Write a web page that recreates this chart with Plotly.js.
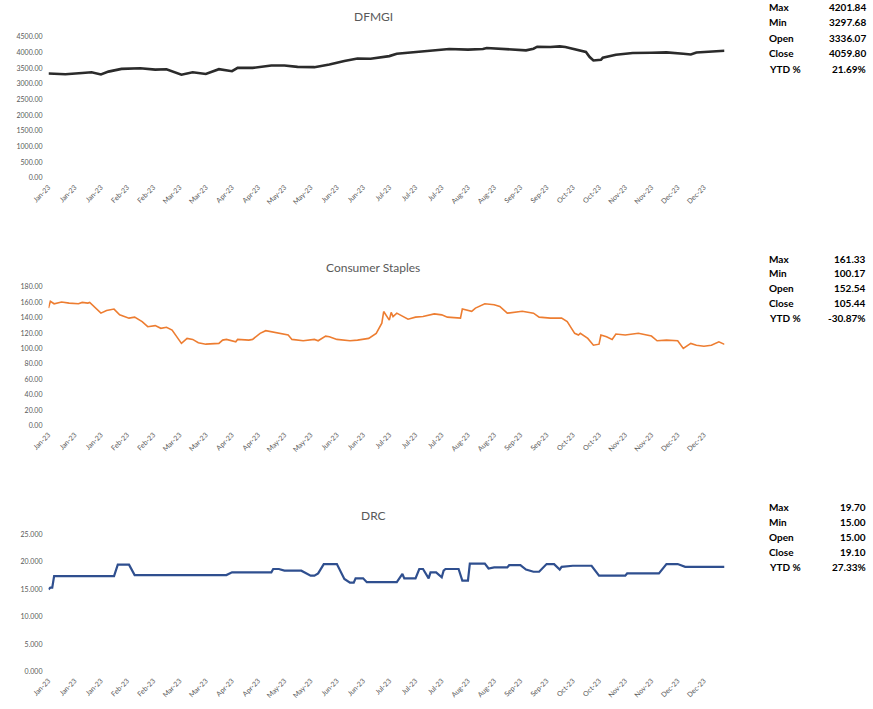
<!DOCTYPE html>
<html>
<head>
<meta charset="utf-8">
<script src="https://cdn.plot.ly/plotly-3.0.1.min.js"></script>
<style>html,body{margin:0;padding:0;background:#fff;}#chart{width:873px;height:709px;}</style>
</head>
<body>
<div id="chart"></div>
<script>
// ---------- DATA ----------
const dfmgiDates = ['2023-01-02','2023-01-11','2023-01-20','2023-01-25','2023-01-30','2023-02-03','2023-02-10','2023-02-20','2023-02-28','2023-03-06','2023-03-14','2023-03-20','2023-03-27','2023-04-03','2023-04-10','2023-04-13','2023-04-21','2023-05-01','2023-05-08','2023-05-15','2023-05-24','2023-06-01','2023-06-09','2023-06-16','2023-06-23','2023-07-03','2023-07-07','2023-07-18','2023-07-26','2023-08-04','2023-08-14','2023-08-22','2023-08-24','2023-08-31','2023-09-08','2023-09-14','2023-09-18','2023-09-20','2023-09-27','2023-10-02','2023-10-05','2023-10-11','2023-10-16','2023-10-18','2023-10-20','2023-10-24','2023-10-25','2023-11-01','2023-11-10','2023-11-20','2023-11-28','2023-12-07','2023-12-11','2023-12-14','2023-12-21','2023-12-29'];
const dfmgiValues = [3336.07,3310,3353,3375,3305,3395,3482,3505,3459,3472,3297.68,3375,3320,3472,3408,3514,3514,3589,3589,3547,3537,3621,3731,3815,3805,3890,3966,4021,4073,4118,4096,4118,4150,4128,4105,4073,4128,4190,4183,4201.84,4183,4096,4021,3860,3750,3773,3837,3934,3989,3999,4008,3966,3944,4008,4040,4059.80];

const staplesDates = ['2023-01-02','2023-01-03','2023-01-05','2023-01-09','2023-01-13','2023-01-18','2023-01-20','2023-01-23','2023-01-24','2023-01-26','2023-01-30','2023-02-02','2023-02-06','2023-02-09','2023-02-14','2023-02-17','2023-02-21','2023-02-24','2023-02-28','2023-03-03','2023-03-06','2023-03-09','2023-03-13','2023-03-14','2023-03-17','2023-03-20','2023-03-23','2023-03-27','2023-04-03','2023-04-05','2023-04-07','2023-04-12','2023-04-13','2023-04-19','2023-04-21','2023-04-25','2023-04-28','2023-05-04','2023-05-10','2023-05-12','2023-05-18','2023-05-24','2023-05-26','2023-05-30','2023-06-01','2023-06-05','2023-06-12','2023-06-16','2023-06-22','2023-06-26','2023-06-29','2023-06-30','2023-07-03','2023-07-04','2023-07-05','2023-07-07','2023-07-10','2023-07-13','2023-07-17','2023-07-21','2023-07-27','2023-07-31','2023-08-03','2023-08-10','2023-08-11','2023-08-16','2023-08-18','2023-08-23','2023-08-28','2023-08-31','2023-09-04','2023-09-08','2023-09-12','2023-09-18','2023-09-21','2023-09-27','2023-10-03','2023-10-06','2023-10-10','2023-10-12','2023-10-13','2023-10-17','2023-10-20','2023-10-23','2023-10-24','2023-10-27','2023-10-30','2023-11-01','2023-11-06','2023-11-13','2023-11-20','2023-11-23','2023-11-28','2023-12-04','2023-12-07','2023-12-11','2023-12-14','2023-12-18','2023-12-22','2023-12-26','2023-12-29'];
const staplesValues = [152.54,161.33,158.2,160.5,159.1,158.2,160,159.1,160,155.6,146,149.4,151.3,143.8,139.5,140.8,135,128.4,129.8,126.3,127.7,124.1,108.8,106.7,113.2,111.9,107.5,105.7,106.7,111,111.9,108.8,111.9,111,111.9,119.8,123.2,120.6,117.6,111.9,110.1,111.9,110.1,116.2,115.3,111.9,110.1,111,113.2,119.8,132.9,148.1,137,147,141.6,146,141.6,138.2,140.8,141.6,145.1,143.8,140.8,139.5,151.3,148.4,152.6,158.2,157,154.7,146,146.8,148.4,146,140.8,139.5,139.5,135,119.8,117.6,119.8,113.2,104.4,105.7,117.6,115.3,111.9,118.9,117.6,119.8,116.2,110.1,111,110.1,100.17,106.7,104.4,103.1,104.4,108.8,105.44];

const drcDates = ['2023-01-02','2023-01-03','2023-01-04','2023-01-05','2023-02-06','2023-02-08','2023-02-14','2023-02-17','2023-04-07','2023-04-10','2023-05-01','2023-05-02','2023-05-05','2023-05-08','2023-05-17','2023-05-22','2023-05-24','2023-05-26','2023-05-29','2023-06-05','2023-06-09','2023-06-12','2023-06-14','2023-06-15','2023-06-19','2023-06-21','2023-07-07','2023-07-10','2023-07-11','2023-07-17','2023-07-19','2023-07-21','2023-07-24','2023-07-25','2023-07-28','2023-07-31','2023-08-01','2023-08-02','2023-08-09','2023-08-11','2023-08-14','2023-08-15','2023-08-23','2023-08-25','2023-08-28','2023-09-04','2023-09-05','2023-09-11','2023-09-14','2023-09-18','2023-09-21','2023-09-25','2023-09-29','2023-10-02','2023-10-03','2023-10-09','2023-10-19','2023-10-23','2023-11-06','2023-11-07','2023-11-24','2023-11-28','2023-12-04','2023-12-08','2023-12-29'];
const drcValues = [15.00,15.3,15.3,17.4,17.4,19.5,19.5,17.6,17.6,18.1,18.1,18.7,18.7,18.4,18.4,17.5,17.5,17.9,19.6,19.6,16.9,16.2,16.2,17.0,17.0,16.3,16.3,17.8,17.0,17.0,18.7,18.7,17.0,18.1,18.1,17.2,18.4,18.7,18.7,16.6,16.6,19.70,19.70,18.8,19.0,19.0,19.4,19.4,18.6,18.2,18.2,19.6,19.6,18.6,19.1,19.3,19.3,17.5,17.5,17.9,17.9,19.6,19.6,19.1,19.10];

const chartTitles = ['DFMGI','Consumer Staples','DRC'];
const statLabels = ['Max','Min','Open','Close','YTD %'];
const dfmgiStats = ['4201.84','3297.68','3336.07','4059.80','21.69%'];
const staplesStats = ['161.33','100.17','152.54','105.44','-30.87%'];
const drcStats = ['19.70','15.00','15.00','19.10','27.33%'];

// ---------- LAYOUT HELPERS ----------
const W = 873, H = 709;
const px = v => v / W;
const py = v => 1 - v / H;
const xDom = [px(48.5), px(724.5)];
const tickFont = {family: 'Lato, "Open Sans", sans-serif', size: 7, color: '#595959'};

function xAxis(anchor) {
  return {
    domain: xDom, anchor: anchor, type: 'date',
    range: ['2023-01-02', '2023-12-29'],
    tick0: '2023-01-02', dtick: 14 * 86400000, tickformat: '%b-%y',
    tickangle: -45, tickfont: tickFont, showgrid: false, zeroline: false,
    showline: false, ticks: '', fixedrange: true, automargin: false,
    ticklabelstandoff: 3
  };
}
function yAxis(anchor, dom, range, dtick, fmt) {
  return {
    domain: dom, anchor: anchor, range: range, dtick: dtick, tick0: 0,
    tickformat: fmt, tickfont: tickFont, showgrid: false, zeroline: false,
    showline: false, ticks: '', fixedrange: true, automargin: false,
    ticklabelstandoff: 5
  };
}

const traces = [
  {x: dfmgiDates, y: dfmgiValues, xaxis: 'x', yaxis: 'y', type: 'scatter', mode: 'lines',
   line: {color: '#2b2b2b', width: 2.6}, hoverinfo: 'skip'},
  {x: staplesDates, y: staplesValues, xaxis: 'x2', yaxis: 'y2', type: 'scatter', mode: 'lines',
   line: {color: '#ED7D31', width: 1.6}, hoverinfo: 'skip'},
  {x: drcDates, y: drcValues, xaxis: 'x3', yaxis: 'y3', type: 'scatter', mode: 'lines',
   line: {color: '#2F4F8F', width: 2.2}, hoverinfo: 'skip'}
];

const annotations = [];
const titleY = [17, 267, 515];
chartTitles.forEach((t, i) => {
  annotations.push({text: t, xref: 'paper', yref: 'paper', x: px(373), y: py(titleY[i]),
    xanchor: 'center', yanchor: 'middle', showarrow: false,
    font: {family: 'Lato, "Open Sans", sans-serif', size: 12, color: '#595959'}});
});
const statSets = [dfmgiStats, staplesStats, drcStats];
const statStart = [7, 258.5, 507];
const statStep = [15.5, 14.8, 15];
statSets.forEach((vals, k) => {
  statLabels.forEach((lab, i) => {
    const yy = py(statStart[k] + i * statStep[k]);
    annotations.push({text: '<b>' + lab + '</b>', xref: 'paper', yref: 'paper', x: px(767), y: yy,
      xanchor: 'left', yanchor: 'middle', showarrow: false,
      font: {family: 'Lato, "Open Sans", sans-serif', size: 10, color: '#000'}});
    annotations.push({text: '<b>' + vals[i] + '</b>', xref: 'paper', yref: 'paper', x: px(868), y: yy,
      xanchor: 'right', yanchor: 'middle', showarrow: false,
      font: {family: 'Lato, "Open Sans", sans-serif', size: 10, color: '#000'}});
  });
});

const layout = {
  width: W, height: H, margin: {l: 0, r: 0, t: 0, b: 0},
  paper_bgcolor: '#ffffff', plot_bgcolor: '#ffffff', showlegend: false,
  xaxis: xAxis('y'), xaxis2: xAxis('y2'), xaxis3: xAxis('y3'),
  yaxis: yAxis('x', [py(178), py(37)], [0, 4500], 500, '.2f'),
  yaxis2: yAxis('x2', [py(425.5), py(287)], [0, 180], 20, '.2f'),
  yaxis3: yAxis('x3', [py(671.5), py(534.5)], [0, 25], 5, '.3f'),
  annotations: annotations
};

Plotly.newPlot('chart', traces, layout, {displayModeBar: false, staticPlot: true});
</script>
</body>
</html>
